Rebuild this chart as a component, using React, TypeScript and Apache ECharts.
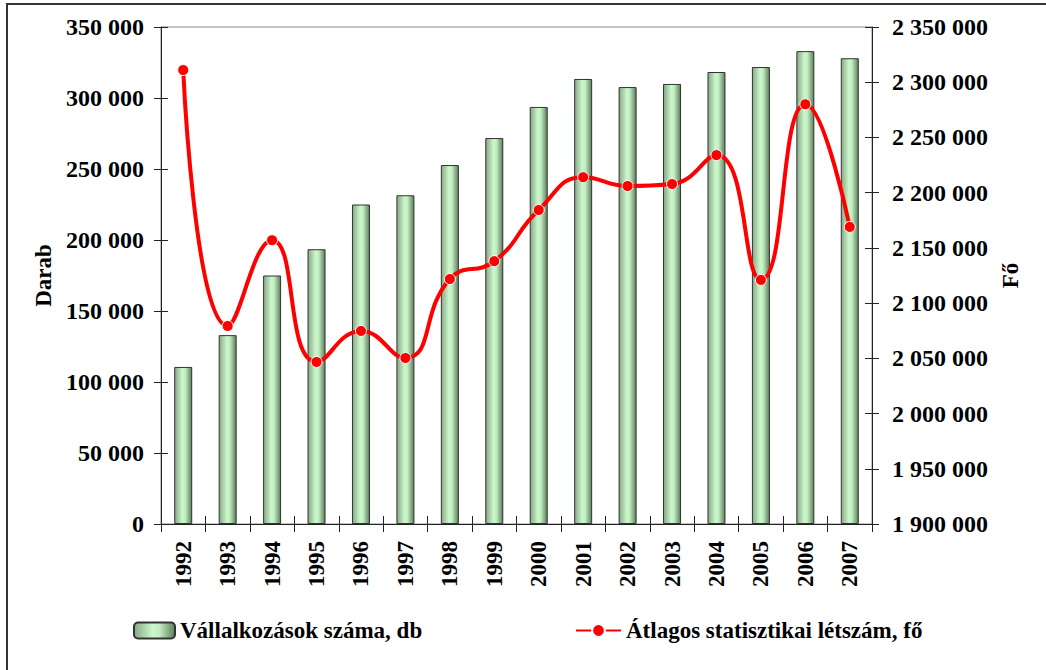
import React, { useEffect, useRef } from "react";
import * as echarts from "echarts";

const years = ["1992","1993","1994","1995","1996","1997","1998","1999","2000","2001","2002","2003","2004","2005","2006","2007"];
const enterprises = [110600,133000,175000,193500,225000,231500,252800,271800,293700,313400,307700,309900,318300,321800,333000,328000];
const employees = [2311000,2079300,2157000,2046700,2074800,2050300,2121800,2138000,2184300,2214000,2206000,2207800,2234000,2121000,2280000,2169000];

const barName = "Vállalkozások száma, db";
const lineName = "Átlagos statisztikai létszám, fő";

const font = "'Liberation Serif', 'Times New Roman', serif";
const fmt = (v: number) => String(Math.round(v)).replace(/\B(?=(\d{3})+(?!\d))/g, " ");

export default function App() {
  const ref = useRef<HTMLDivElement>(null);
  useEffect(() => {
    document.body.style.margin = "0";
    const chart = echarts.init(ref.current!, null, { renderer: "svg" });
    const labelStyle = { fontFamily: font, fontWeight: "bold" as const, fontSize: 24, color: "#000" };
    const axisLine = { show: true, lineStyle: { color: "#222", width: 1 } };
    const barGrad = new echarts.graphic.LinearGradient(0, 0, 1, 0, [
      { offset: 0, color: "#86a886" },
      { offset: 0.45, color: "#ccf7cc" },
      { offset: 0.62, color: "#c2eec2" },
      { offset: 1, color: "#5c7e5c" },
    ]);
    const leftY = { min: 0, max: 350000, interval: 50000 };
    const rightY = { min: 1900000, max: 2350000, interval: 50000 };
    chart.setOption({
      animation: false,
      backgroundColor: "#fff",
      graphic: [
        {
          type: "rect",
          shape: { x: 7, y: 4, width: 1100, height: 700 },
          style: { fill: "none", stroke: "#333", lineWidth: 2 },
          silent: true,
        },
      ],
      grid: {
        left: 161, right: 174, top: 27, bottom: 146,
        show: true, borderColor: "#888", borderWidth: 1, backgroundColor: "transparent",
      },
      legend: [
        {
          data: [barName], left: 133, top: 619, padding: 0, itemWidth: 41, itemHeight: 16,
          textStyle: { ...labelStyle, fontSize: 23 },
        },
        {
          data: [lineName], left: 575, top: 619, padding: 0, itemWidth: 45, itemHeight: 16,
          textStyle: { ...labelStyle, fontSize: 23 },
        },
      ],
      xAxis: [
        {
          type: "category", data: years, position: "bottom",
          axisLine, axisTick: { show: true, length: 8, lineStyle: { color: "#222" } },
          axisLabel: { ...labelStyle, fontSize: 23, rotate: 90, margin: 17 },
          splitLine: { show: false },
        },
        {
          type: "category", data: years, position: "bottom",
          axisLine: { show: false },
          axisTick: { show: true, inside: true, length: 8, lineStyle: { color: "#222" } },
          axisLabel: { show: false }, splitLine: { show: false },
        },
      ],
      yAxis: [
        {
          type: "value", position: "left", ...leftY,
          name: "Darab", nameLocation: "middle", nameGap: 105, nameRotate: 90,
          nameTextStyle: { ...labelStyle, fontSize: 23 },
          axisLine, axisTick: { show: true, length: 7, lineStyle: { color: "#222" } },
          axisLabel: { ...labelStyle, margin: 17, formatter: fmt },
          splitLine: { show: false },
        },
        {
          type: "value", position: "right", ...rightY,
          name: "Fő", nameLocation: "middle", nameGap: 124, nameRotate: 90,
          nameTextStyle: { ...labelStyle, fontSize: 23 },
          axisLine, axisTick: { show: true, length: 7, lineStyle: { color: "#222" } },
          axisLabel: { ...labelStyle, margin: 20, formatter: fmt },
          splitLine: { show: false },
        },
        {
          type: "value", position: "left", ...leftY,
          axisLine: { show: false },
          axisTick: { show: true, inside: true, length: 7, lineStyle: { color: "#222" } },
          axisLabel: { show: false }, splitLine: { show: false },
        },
        {
          type: "value", position: "right", ...rightY,
          axisLine: { show: false },
          axisTick: { show: true, inside: true, length: 7, lineStyle: { color: "#222" } },
          axisLabel: { show: false }, splitLine: { show: false },
        },
      ],
      series: [
        {
          name: barName, type: "bar", data: enterprises, xAxisIndex: 0, yAxisIndex: 0,
          barWidth: 18,
          itemStyle: { color: barGrad, borderColor: "#333", borderWidth: 1 },
        },
        {
          name: lineName, type: "line", data: employees, xAxisIndex: 0, yAxisIndex: 1,
          smooth: 0.5, symbol: "circle", symbolSize: 11,
          lineStyle: { color: "#ff0000", width: 4 },
          itemStyle: { color: "#ff0000", borderColor: "#fff", borderWidth: 1 },
          z: 5,
        },
      ],
    });
    return () => chart.dispose();
  }, []);
  return <div ref={ref} style={{ width: 1046, height: 670 }} />;
}
